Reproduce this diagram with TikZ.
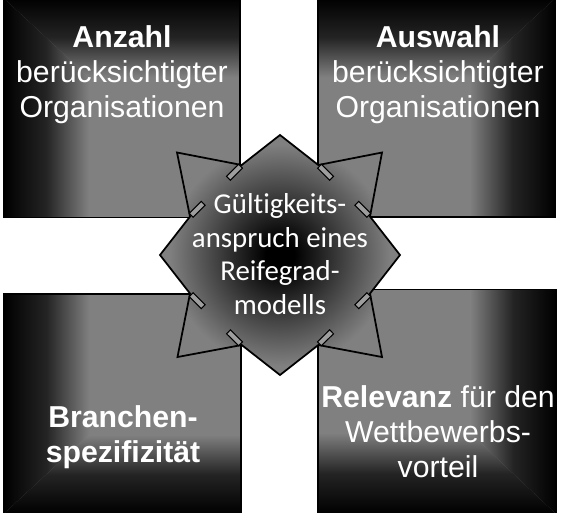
\documentclass[tikz,border=0pt]{standalone}
\usepackage{fontspec}
\setmainfont{Liberation Sans}
\newfontfamily\calibrilike[Ligatures=NoCommon]{Carlito}
\usetikzlibrary{calc}

\pgfdeclareradialshading{starglow}{\pgfpoint{0bp}{0bp}}{color(0bp)=(black); color(3bp)=(black); color(23bp)=(gray); color(50bp)=(gray)}

\tikzset{
  boxline/.style={draw=black, line width=0.6pt},
  edgefade/.style={middle color=black!72!gray},
  boxtext/.style={text=white, align=center, font=\fontsize{17.2}{20}\selectfont},
  centertext/.style={text=white, align=center, font=\calibrilike\fontsize{16.4}{19.1}\selectfont},
  jointab/.style={draw=black, line width=0.6pt, fill=black!38, minimum width=0.34cm,
    minimum height=0.11cm, inner sep=0pt, sloped}
}

\begin{document}
\begin{tikzpicture}[x=0.02cm, y=-0.02cm]

  \useasboundingbox (0,0) rectangle (580,512);

  % Top left square
  \fill[gray] (3.5,-2) rectangle (240,217.5);
  \begin{scope}
    \clip (3.5,-2) -- (3.5,217.5) -- (240,217.5) -- cycle;
    \shade[left color=black, right color=gray, edgefade] (3.5,-2) rectangle (88.5,217.5);
  \end{scope}
  \begin{scope}
    \clip (3.5,-2) -- (240,-2) -- (240,217.5) -- cycle;
    \shade[top color=black, bottom color=gray, edgefade] (3.5,-2) rectangle (240,77);
  \end{scope}
  \draw[boxline] (3.5,-2) rectangle (240,217.5);

  % Top right square
  \fill[gray] (318,-2) rectangle (555.5,217);
  \begin{scope}
    \clip (555.5,-2) -- (555.5,217) -- (318,217) -- cycle;
    \shade[left color=gray, right color=black, edgefade] (470,-2) rectangle (555.5,217);
  \end{scope}
  \begin{scope}
    \clip (555.5,-2) -- (318,-2) -- (318,217) -- cycle;
    \shade[top color=black, bottom color=gray, edgefade] (318,-2) rectangle (555.5,77);
  \end{scope}
  \draw[boxline] (318,-2) rectangle (555.5,217);

  % Bottom left square
  \fill[gray] (3.5,294) rectangle (241,514);
  \begin{scope}
    \clip (3.5,514) -- (3.5,294) -- (241,294) -- cycle;
    \shade[left color=black, right color=gray, edgefade] (3.5,294) rectangle (89,514);
  \end{scope}
  \begin{scope}
    \clip (3.5,514) -- (241,514) -- (241,294) -- cycle;
    \shade[top color=gray, bottom color=black, edgefade] (3.5,435) rectangle (241,514);
  \end{scope}
  \draw[boxline] (3.5,294) rectangle (241,514);

  % Bottom right square
  \fill[gray] (318,289.5) rectangle (556,514);
  \begin{scope}
    \clip (556,514) -- (556,289.5) -- (318,289.5) -- cycle;
    \shade[left color=gray, right color=black, edgefade] (470.5,289.5) rectangle (556,514);
  \end{scope}
  \begin{scope}
    \clip (556,514) -- (318,514) -- (318,289.5) -- cycle;
    \shade[top color=gray, bottom color=black, edgefade] (318,433) rectangle (556,514);
  \end{scope}
  \draw[boxline] (318,289.5) rectangle (556,514);

  % Star in the middle
  \begin{scope}[shift={(280,255)}]
    \coordinate (nea) at (38.3,-90);   \coordinate (netip) at (102,-102.5);  \coordinate (neb) at (90,-38.5);
    \coordinate (sea) at (90,38.5);    \coordinate (setip) at (102,102);     \coordinate (seb) at (38.3,90);
    \coordinate (swa) at (-38.3,90);   \coordinate (swtip) at (-102.5,102);  \coordinate (swb) at (-90,38.5);
    \coordinate (nwa) at (-90,-38.5);  \coordinate (nwtip) at (-103,-102.5); \coordinate (nwb) at (-38.3,-90);

    \shadedraw[shading=starglow, draw=black, line width=1pt, line join=miter]
      (0,-120) -- (nea) -- (netip) -- (neb) -- (120,0) -- (sea) -- (setip) -- (seb)
      -- (0,120) -- (swa) -- (swtip) -- (swb) -- (-120,0) -- (nwa) -- (nwtip) -- (nwb) -- cycle;
  \end{scope}

  % Tabs at the inner corners
  \path (nea) -- (neb) node[jointab, pos=0.14] (tabnea) {} node[jointab, pos=0.86] (tabneb) {};
  \path (sea) -- (seb) node[jointab, pos=0.14] (tabsea) {} node[jointab, pos=0.86] (tabseb) {};
  \path (swa) -- (swb) node[jointab, pos=0.14] (tabswa) {} node[jointab, pos=0.86] (tabswb) {};
  \path (nwa) -- (nwb) node[jointab, pos=0.14] (tabnwa) {} node[jointab, pos=0.86] (tabnwb) {};

  % Labels
  \node[boxtext] (anzahl) at (122,75) {\textbf{Anzahl}\\berücksichtigter\\Organisationen};
  \node[boxtext] (auswahl) at (438,75) {\textbf{Auswahl}\\berücksichtigter\\Organisationen};
  \node[boxtext] (branche) at (123,437.5) {\textbf{Branchen-}\\\textbf{spezifizität}};
  \node[boxtext] (relevanz) at (438,432) {\textbf{Relevanz} für den\\Wettbewerbs-\\vorteil};
  \node[centertext] (geltung) at (280,254) {Gültigkeits-\\anspruch eines\\Reifegrad-\\modells};

\end{tikzpicture}
\end{document}
